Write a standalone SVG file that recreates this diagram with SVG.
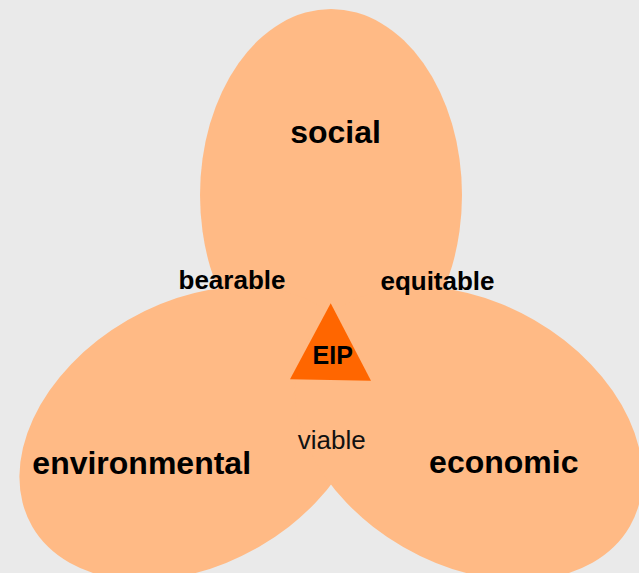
<svg xmlns="http://www.w3.org/2000/svg" width="639" height="573" viewBox="0 0 639 573">
  <style>
    .lobe { fill: #FFBA85; }
    .main { font-family: "Liberation Sans", Arial, sans-serif; font-weight: bold; font-size: 32px; fill: #000; text-anchor: middle; }
    .rel { font-family: "Liberation Sans", Arial, sans-serif; font-weight: bold; font-size: 26px; fill: #000; text-anchor: middle; }
    .relr { font-family: "Liberation Sans", Arial, sans-serif; font-size: 26px; fill: #111; text-anchor: middle; }
  </style>
  <rect x="0" y="0" width="639" height="573" fill="#EAEAEA"/>
  <g id="social">
    <ellipse class="lobe" cx="331" cy="195" rx="131" ry="186"/>
  </g>
  <g id="environmental">
    <ellipse class="lobe" cx="331" cy="195" rx="131" ry="186" transform="rotate(240 331 354)"/>
  </g>
  <g id="economic">
    <ellipse class="lobe" cx="331" cy="195" rx="131" ry="186" transform="rotate(120 331 354)"/>
  </g>
  <g id="labels">
    <text class="main" x="335.5" y="143">social</text>
    <text class="main" x="141.7" y="474">environmental</text>
    <text class="main" x="503.8" y="473">economic</text>
    <text class="rel" x="232" y="289">bearable</text>
    <text class="rel" x="437.5" y="290">equitable</text>
    <text class="relr" x="331.7" y="449">viable</text>
  </g>
  <g id="EIP">
    <polygon points="330.7,303.3 290,379.3 371,380.7" fill="#FF6600"/>
    <text class="rel" x="332.7" y="364" style="font-size:25px">EIP</text>
  </g>
</svg>
